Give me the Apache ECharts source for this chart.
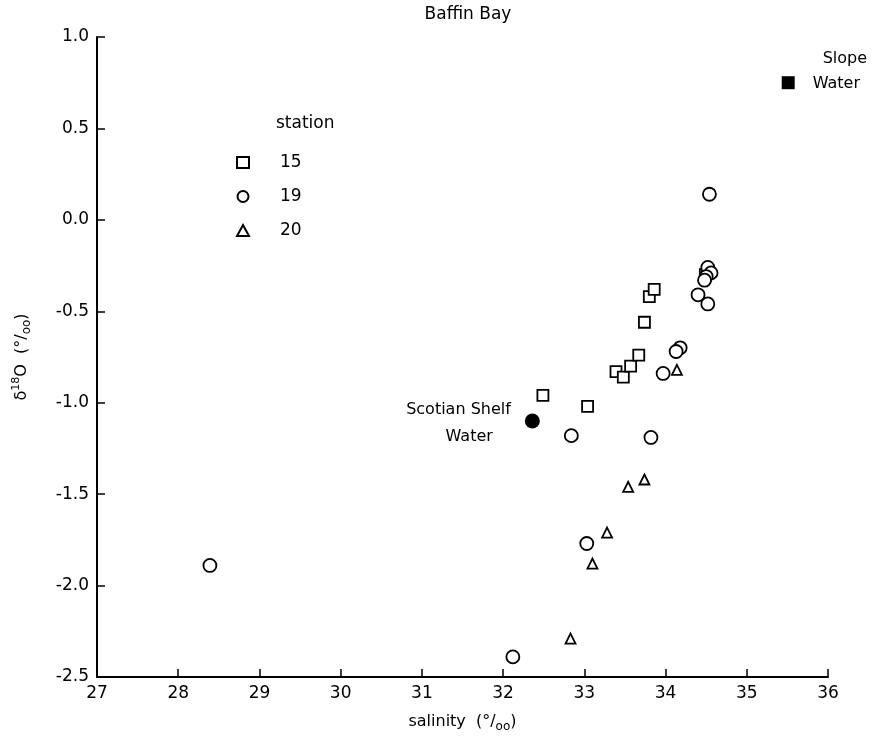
<!DOCTYPE html>
<html>
<head>
    <meta charset="utf-8"/>
    <title>Baffin Bay</title>
    <script src="https://cdn.jsdelivr.net/npm/echarts@6/dist/echarts.min.js"></script>
    <style>
        html, body { margin: 0; padding: 0; background: #fff; }
        #main { width: 874px; height: 742px; }
    </style>
</head>
<body>
<div id="main"></div>
<script>
    // salinity (x), d18O (y)
    var station15 = [[32.49, -0.96], [33.04, -1.02], [33.39, -0.83], [33.48, -0.86], [33.57, -0.80],
        [33.67, -0.74], [33.74, -0.56], [33.80, -0.42], [33.86, -0.38], [34.49, -0.30]];
    var station19 = [[34.54, 0.14], [34.52, -0.26], [34.56, -0.29], [34.50, -0.31], [34.48, -0.33],
        [34.40, -0.41], [34.52, -0.46], [34.18, -0.70], [34.13, -0.72], [33.97, -0.84],
        [32.84, -1.18], [33.82, -1.19], [33.03, -1.77], [32.12, -2.39], [28.39, -1.89]];
    var station20 = [[34.14, -0.82], [33.74, -1.42], [33.54, -1.46], [33.28, -1.71], [33.10, -1.88], [32.83, -2.29]];
    var scotianShelf = [[32.36, -1.10]];
    var slopeWater = [[35.51, 0.75]];

    var font = 'DejaVu Sans';
    var hollow = {color: '#fff', borderColor: '#000', borderWidth: 1.8, opacity: 1};

    var myChart = echarts.init(document.getElementById('main'));
    var option = {
        animation: false,
        backgroundColor: '#fff',
        textStyle: {fontFamily: font, color: '#000'},
        title: {
            text: 'Baffin Bay',
            left: 463, top: 1, textAlign: 'center',
            textStyle: {fontFamily: font, fontSize: 17, fontWeight: 'normal', color: '#000'}
        },
        grid: {left: 97, right: 46, top: 37, bottom: 65},
        legend: {
            data: ['15', '19', '20'],
            orient: 'vertical',
            left: 231, top: 149,
            itemWidth: 12, itemHeight: 11,
            itemGap: 17,
            textStyle: {fontFamily: font, fontSize: 17, color: '#000', padding: [0, 0, 0, 26]}
        },
        graphic: [{
            type: 'text', left: 276, top: 115,
            style: {text: 'station', font: '17px "DejaVu Sans"', fill: '#000'}
        }],
        xAxis: {
            type: 'value', min: 27, max: 36, interval: 1,
            name: '{n|salinity  (°/}{b|oo}{n|)}',
            nameLocation: 'middle', nameGap: 34,
            nameTextStyle: {
                color: '#000',
                rich: {
                    n: {fontFamily: font, fontSize: 16, lineHeight: 22, verticalAlign: 'middle', color: '#000'},
                    b: {fontFamily: font, fontSize: 12, lineHeight: 22, verticalAlign: 'bottom', color: '#000', padding: [8, 0, 0, 0]}
                }
            },
            axisLine: {onZero: false, lineStyle: {color: '#000', width: 2}},
            axisTick: {inside: true, length: 8, lineStyle: {color: '#000', width: 1.5}},
            axisLabel: {fontFamily: font, fontSize: 17, color: '#000', margin: 8},
            splitLine: {show: false}
        },
        yAxis: {
            type: 'value', min: -2.5, max: 1.0, interval: 0.5,
            name: '{n|δ}{s|18}{n|O  (°/}{b|oo}{n|)}',
            nameLocation: 'middle', nameGap: 64, nameRotate: 90,
            nameTextStyle: {
                color: '#000',
                rich: {
                    n: {fontFamily: font, fontSize: 16, lineHeight: 22, verticalAlign: 'middle', color: '#000'},
                    s: {fontFamily: font, fontSize: 11, lineHeight: 22, verticalAlign: 'top', color: '#000', padding: [0, 0, 8, 0]},
                    b: {fontFamily: font, fontSize: 12, lineHeight: 22, verticalAlign: 'bottom', color: '#000', padding: [8, 0, 0, 0]}
                }
            },
            axisLine: {onZero: false, lineStyle: {color: '#000', width: 2}},
            axisTick: {inside: true, length: 8, lineStyle: {color: '#000', width: 1.5}},
            axisLabel: {
                fontFamily: font, fontSize: 17, color: '#000', margin: 8,
                formatter: function (v) { return v.toFixed(1); }
            },
            splitLine: {show: false}
        },
        series: [
            {name: '15', type: 'scatter', symbol: 'rect', symbolSize: 11, data: station15, itemStyle: hollow},
            {name: '19', type: 'scatter', symbol: 'circle', symbolSize: 13, data: station19, itemStyle: hollow},
            {name: '20', type: 'scatter', symbol: 'triangle', symbolSize: 10, data: station20, itemStyle: hollow},
            {
                name: 'Scotian Shelf Water', type: 'scatter', symbol: 'circle', symbolSize: 15,
                data: scotianShelf, itemStyle: {color: '#000', opacity: 1},
                label: {
                    show: true, position: 'left', distance: 14, offset: [0, 2], color: '#000',
                    formatter: '{a|Scotian Shelf}\n{b|Water}',
                    rich: {
                        a: {fontFamily: font, fontSize: 16, lineHeight: 27, align: 'right', color: '#000'},
                        b: {fontFamily: font, fontSize: 16, lineHeight: 27, align: 'right', color: '#000', padding: [0, 18, 0, 0]}
                    }
                }
            },
            {
                name: 'Slope Water', type: 'scatter', symbol: 'rect', symbolSize: 13,
                data: slopeWater, itemStyle: {color: '#000', opacity: 1},
                label: {
                    show: true, position: 'right', distance: 18, offset: [0, -11], color: '#000',
                    formatter: '{a|Slope}\n{b|Water}',
                    rich: {
                        a: {fontFamily: font, fontSize: 16, lineHeight: 25, align: 'left', color: '#000', padding: [0, 0, 0, 10]},
                        b: {fontFamily: font, fontSize: 16, lineHeight: 25, align: 'left', color: '#000'}
                    }
                }
            }
        ]
    };
    myChart.setOption(option);
    window.onresize = function () {
        myChart.resize();
    };
</script>
</body>
</html>
